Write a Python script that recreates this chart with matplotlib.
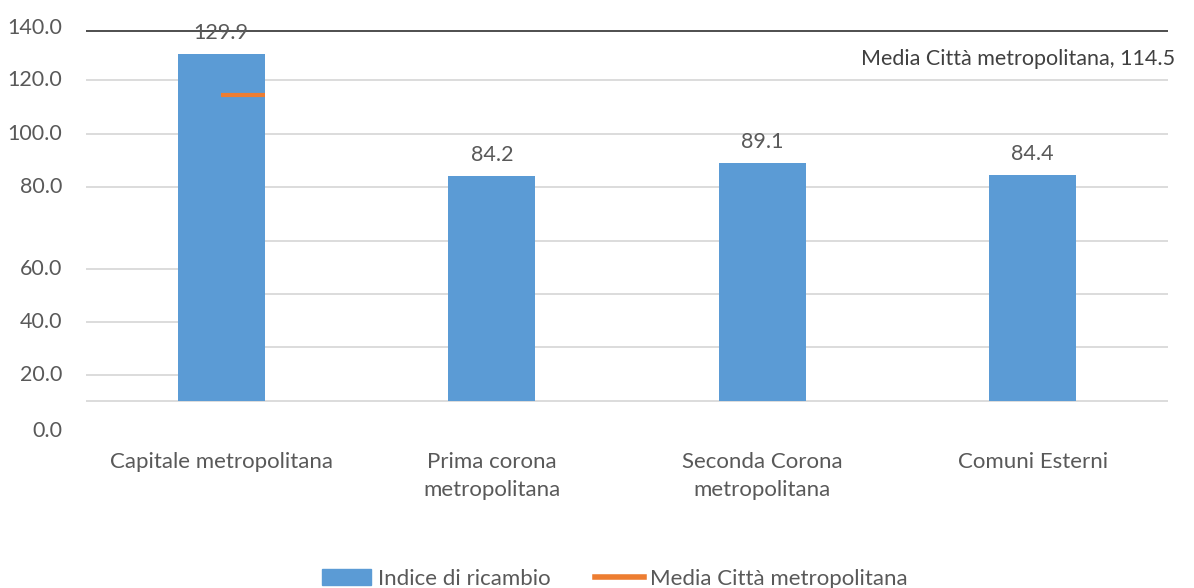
import matplotlib.pyplot as plt
from matplotlib.patches import Patch
from matplotlib.lines import Line2D
from matplotlib.transforms import blended_transform_factory

categorie = ["Capitale metropolitana", "Prima corona\nmetropolitana",
             "Seconda Corona\nmetropolitana", "Comuni Esterni"]
indice = [129.9, 84.2, 89.1, 84.4]
media = 114.5
tick_labels = ["0.0", "20.0", "40.0", "60.0", "80.0", "100.0", "120.0", "140.0"]

grigio = "#595959"
blu = "#5b9bd5"
arancio = "#ed7d31"
plt.rcParams['font.family'] = ['Lato', 'DejaVu Sans']

fig = plt.figure(figsize=(11.94, 5.88), dpi=100)
ax = fig.add_axes([86/1194, (588-400.7)/588, 1082/1194, (400.7-27)/588])
ax.set_xlim(-0.5, 3.5)
ax.set_ylim(0, 140)

w = 0.32
x = list(range(len(categorie)))
left0 = x[0] - w/2
right0 = x[0] + w/2

# griglia (spostata a sinistra della prima barra, come nell'originale)
for v in [0, 80, 100, 120]:
    ax.hlines(v, -0.5, 3.5, color="#d9d9d9", lw=1.3, zorder=0, clip_on=False)
for v in [20, 40, 60]:
    ax.hlines(v, right0, 3.5, color="#d9d9d9", lw=1.3, zorder=0)
    ax.hlines(v - 10.5, -0.5, left0, color="#d9d9d9", lw=1.3, zorder=0)
ax.hlines(138.5, -0.5, 3.5, color="#404040", lw=1.3, zorder=3, clip_on=False)

ax.bar(x, indice, width=w, color=blu, zorder=2)
ax.hlines(media, x[0], right0, color=arancio, lw=3, zorder=4)

for xi, v in zip(x, indice):
    ax.annotate(f"{v:.1f}", (xi, v), xytext=(0, 8), textcoords="offset points",
                ha="center", va="bottom", fontsize=15.5, color=grigio, zorder=5)

trans = blended_transform_factory(ax.transAxes, ax.transData)
ax.text(1.0065, 128, f"Media Città metropolitana, {media}", transform=trans,
        ha="right", va="center", fontsize=15.5, color="#404040", clip_on=False)

# etichette asse y
pos_lab = [-11.5, 9.5, 29.5, 49.5, 80, 100, 120, 139.5]
for p, t in zip(pos_lab, tick_labels):
    ax.text(-0.022, p, t, transform=trans, ha="right", va="center",
            fontsize=15.5, color=grigio, clip_on=False)

ax.set_yticks([])
ax.set_xticks(x)
ax.set_xticklabels(categorie, fontsize=16, color=grigio, linespacing=1.5)
ax.tick_params(axis="x", length=0, pad=37)
for s in ax.spines.values():
    s.set_visible(False)

handles = [Patch(color=blu, label="Indice di ricambio"),
           Line2D([], [], color=arancio, lw=4, label="Media Città metropolitana")]
fig.legend(handles=handles, loc="center", bbox_to_anchor=(615/1194, 1 - 579/588),
           ncol=2, frameon=False, fontsize=16, labelcolor=grigio,
           handlelength=2.2, handleheight=0.7, handletextpad=0.3, columnspacing=2.0)

fig.savefig("out.png", dpi=100)
